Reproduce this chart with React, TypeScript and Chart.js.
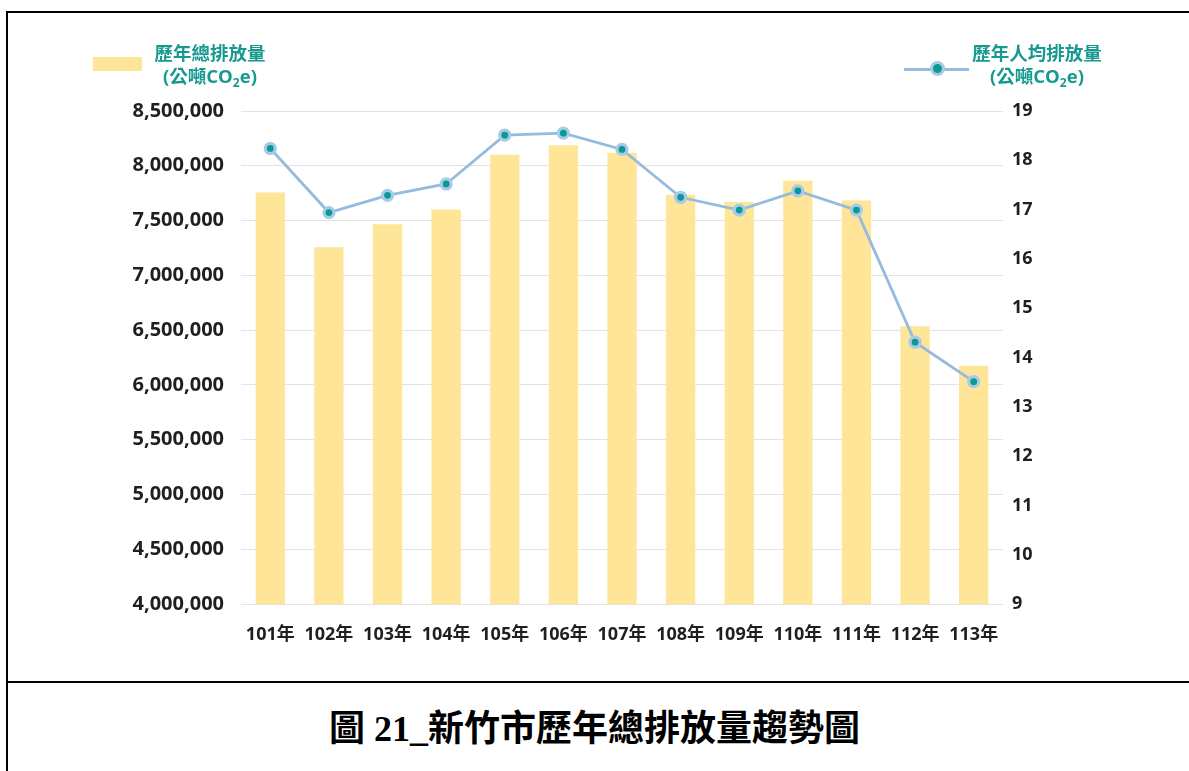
import React, { useEffect, useRef } from "react";
import { Chart, registerables } from "chart.js";

Chart.register(...registerables);

const years = ["101年", "102年", "103年", "104年", "105年", "106年", "107年", "108年", "109年", "110年", "111年", "112年", "113年"];
const totalEmissions = [7757000, 7257000, 7466000, 7600000, 8100000, 8188000, 8118000, 7736000, 7670000, 7864000, 7682000, 6536000, 6175000];
const perCapitaEmissions = [18.24, 16.94, 17.29, 17.52, 18.51, 18.55, 18.22, 17.25, 16.99, 17.38, 16.99, 14.31, 13.51];
const leftAxisRange = [4000000, 8500000, 500000];
const rightAxisRange = [9, 19, 1];
const totalLabel = ["歷年總排放量", "(公噸CO", "2", "e)"];
const perCapitaLabel = ["歷年人均排放量", "(公噸CO", "2", "e)"];
const captionText = "圖 21_新竹市歷年總排放量趨勢圖";

const BAR_COLOR = "#fee598";
const LINE_COLOR = "#95bbdf";
const POINT_FILL = "#0c9893";
const POINT_BORDER = "#a6cbe8";
const TEAL_TEXT = "#16998f";
const TICK_COLOR = "#1f1f1f";
const TICK_FONT = '"Open Sans", "Noto Sans CJK TC", sans-serif';

export default function App() {
  const canvasRef = useRef<HTMLCanvasElement | null>(null);

  useEffect(() => {
    if (!canvasRef.current) return;
    const chart = new Chart(canvasRef.current, {
      data: {
        labels: years,
        datasets: [
          {
            type: "line",
            label: perCapitaLabel[0],
            data: perCapitaEmissions,
            yAxisID: "y1",
            borderColor: LINE_COLOR,
            borderWidth: 2.8,
            pointRadius: 5,
            pointBorderWidth: 3.2,
            pointBackgroundColor: POINT_FILL,
            pointBorderColor: POINT_BORDER,
            tension: 0,
            order: 0,
          },
          {
            type: "bar",
            label: totalLabel[0],
            data: totalEmissions,
            yAxisID: "y",
            backgroundColor: BAR_COLOR,
            borderWidth: 0,
            categoryPercentage: 1,
            barPercentage: 0.5,
            order: 1,
          },
        ],
      } as any,
      options: {
        responsive: false,
        animation: false,
        layout: { padding: { top: 13, left: 0, right: 0, bottom: 0 } },
        plugins: {
          legend: { display: false },
          tooltip: { enabled: false },
        },
        scales: {
          x: {
            grid: { display: false, drawTicks: false },
            border: { display: false },
            ticks: {
              color: TICK_COLOR,
              font: { family: TICK_FONT, size: 18, weight: "bold" },
              padding: 20,
              maxRotation: 0,
              autoSkip: false,
            },
            afterFit: (s: any) => {
              s.height = 46;
            },
          },
          y: {
            position: "left",
            min: leftAxisRange[0],
            max: leftAxisRange[1],
            grid: { color: "#e3e3e3", lineWidth: 1, drawTicks: false },
            border: { display: false },
            ticks: {
              stepSize: leftAxisRange[2],
              color: TICK_COLOR,
              font: { family: TICK_FONT, size: 20, weight: "bold" },
              padding: 17,
              callback: (v: any) => Number(v).toLocaleString("en-US"),
            },
            afterFit: (s: any) => {
              s.width = 141;
            },
          },
          y1: {
            position: "right",
            min: rightAxisRange[0],
            max: rightAxisRange[1],
            grid: { display: false, drawTicks: false },
            border: { display: false },
            ticks: {
              stepSize: rightAxisRange[2],
              color: TICK_COLOR,
              font: { family: TICK_FONT, size: 18, weight: "bold" },
              padding: 9,
            },
            afterFit: (s: any) => {
              s.width = 97;
            },
          },
        },
      } as any,
    });
    return () => chart.destroy();
  }, []);

  const legendText: React.CSSProperties = {
    position: "absolute",
    color: TEAL_TEXT,
    fontFamily: '"Open Sans", "Noto Sans CJK TC", sans-serif',
    fontWeight: 700,
    fontSize: 18.5,
    lineHeight: "23px",
    textAlign: "center",
    whiteSpace: "nowrap",
  };
  const sub: React.CSSProperties = { fontSize: 12, verticalAlign: "-4px", lineHeight: 0 };

  return (
    <div
      style={{
        position: "absolute",
        left: 0,
        top: 0,
        width: 1189,
        height: 771,
        background: "#fff",
        overflow: "hidden",
      }}
    >
      {/* frame */}
      <div style={{ position: "absolute", left: 6, top: 11, width: 1183, height: 2, background: "#000" }} />
      <div style={{ position: "absolute", left: 6, top: 11, width: 2, height: 760, background: "#000" }} />
      <div style={{ position: "absolute", left: 6, top: 681, width: 1183, height: 2, background: "#000" }} />

      <canvas
        ref={canvasRef}
        width={1000}
        height={568}
        style={{ position: "absolute", left: 100, top: 82, width: 1000, height: 568 }}
      />

      {/* left legend */}
      <div style={{ position: "absolute", left: 93, top: 57, width: 49, height: 14, background: BAR_COLOR }} />
      <div style={{ ...legendText, left: 150, top: 41, width: 120 }}>
        <div>{totalLabel[0]}</div>
        <div>
          {totalLabel[1]}
          <span style={sub}>{totalLabel[2]}</span>
          {totalLabel[3]}
        </div>
      </div>

      {/* right legend */}
      <div style={{ position: "absolute", left: 904, top: 68, width: 65, height: 2.5, background: LINE_COLOR }} />
      <div
        style={{
          position: "absolute",
          left: 930,
          top: 61,
          width: 9,
          height: 9,
          borderRadius: "50%",
          background: POINT_FILL,
          border: `3px solid ${POINT_BORDER}`,
        }}
      />
      <div style={{ ...legendText, left: 967, top: 41, width: 140 }}>
        <div>{perCapitaLabel[0]}</div>
        <div>
          {perCapitaLabel[1]}
          <span style={sub}>{perCapitaLabel[2]}</span>
          {perCapitaLabel[3]}
        </div>
      </div>

      {/* caption */}
      <div
        style={{
          position: "absolute",
          left: 0,
          top: 707,
          width: 1189,
          textAlign: "center",
          fontFamily: '"Liberation Serif", "Noto Sans CJK TC", serif',
          fontWeight: 700,
          fontSize: 36,
          lineHeight: "44px",
          color: "#000",
          whiteSpace: "nowrap",
        }}
      >
        {captionText}
      </div>
    </div>
  );
}
